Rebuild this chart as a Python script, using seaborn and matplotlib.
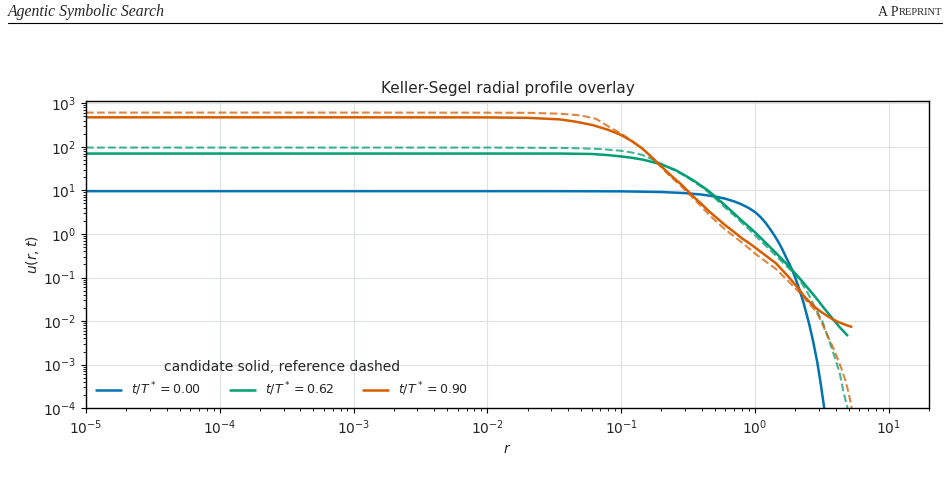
import numpy as np
import pandas as pd
import seaborn as sns
import matplotlib.pyplot as plt
from matplotlib.ticker import LogLocator, NullFormatter

# radial profiles
r_t000 = [1e-5, 1e-3, 0.03, 0.1, 0.2, 0.3, 0.4, 0.5, 0.6, 0.7, 0.8, 0.9, 1.0, 1.1, 1.2,
          1.3, 1.4, 1.5, 1.6, 1.7, 1.8, 1.9, 2.0, 2.13, 2.3, 2.53, 2.7, 2.92, 3.1, 3.27, 3.4]
u_t000 = [9.6, 9.6, 9.6, 9.5, 9.17, 8.65, 8.0, 7.26, 6.43, 5.57, 4.72, 3.92, 3.18, 2.44, 1.80,
          1.28, 0.91, 0.643, 0.443, 0.299, 0.209, 0.146, 0.098, 0.057, 0.027, 0.00895, 0.00379,
          0.00114, 3.6e-4, 1.15e-4, 4.6e-5]

r_t062 = [1e-5, 0.01, 0.035, 0.06, 0.08, 0.1, 0.12, 0.144, 0.165, 0.19, 0.22, 0.256, 0.3,
          0.34, 0.4, 0.454, 0.52, 0.6, 0.7, 0.8, 0.9, 1.0, 1.2, 1.43, 1.75, 2.13, 2.45,
          2.84, 3.27, 3.77, 4.3, 4.9]
u_t062 = [70, 70, 70, 68.5, 64.5, 60, 56, 51, 46, 41, 35, 29, 22,
          17.6, 12.5, 9.5, 6.6, 4.5, 2.92, 2.0, 1.46, 1.09, 0.63, 0.37, 0.195, 0.1, 0.06,
          0.035, 0.02, 0.0117, 0.0072, 0.0047]
r_t062_ref = [1e-5, 0.01, 0.035, 0.05, 0.07, 0.1, 0.12, 0.144, 0.165, 0.19, 0.22, 0.256,
              0.3, 0.34, 0.4, 0.454, 0.52, 0.6, 0.7, 0.8, 0.9, 1.0, 1.2, 1.43, 1.75, 2.13,
              2.5, 2.84, 3.18, 3.57, 4.0, 4.3, 4.61, 4.89, 5.0]
u_t062_ref = [96, 96, 94.4, 92, 89, 81, 74, 65, 54, 44, 35.5, 28,
              21.5, 16.6, 12, 8.7, 6.0, 4.0, 2.65, 1.78, 1.29, 0.93, 0.54, 0.32, 0.174, 0.095,
              0.042, 0.019, 0.01, 0.0037, 0.0013, 6.3e-4, 2.2e-4, 1.07e-4, 7e-5]

r_t090 = [1e-5, 1e-3, 0.01, 0.02, 0.0345, 0.045, 0.061, 0.08, 0.1, 0.12, 0.144, 0.165,
          0.19, 0.228, 0.28, 0.34, 0.4, 0.454, 0.52, 0.6, 0.7, 0.8, 0.9, 1.0, 1.2, 1.43,
          1.6, 1.8, 2.0, 2.13, 2.3, 2.5, 2.7, 2.84, 3.05, 3.3, 3.77, 4.2, 4.7, 5.26]
u_t090 = [475, 475, 473, 462, 427, 380, 316, 245, 186, 135, 91, 62,
          41, 24, 13.8, 7.6, 4.8, 3.3, 2.3, 1.58, 1.1, 0.79, 0.62, 0.49, 0.32, 0.214,
          0.148, 0.1, 0.068, 0.054, 0.039, 0.0295, 0.0234, 0.0202, 0.017, 0.0145, 0.0112,
          0.0095, 0.0083, 0.0074]
r_t090_ref = [1e-5, 1e-3, 0.01, 0.02, 0.035, 0.05, 0.065, 0.081, 0.1, 0.12, 0.144, 0.165,
              0.19, 0.228, 0.28, 0.34, 0.4, 0.454, 0.52, 0.6, 0.7, 0.8, 0.9, 1.0, 1.2, 1.43,
              1.6, 1.8, 2.0, 2.13, 2.3, 2.5, 2.7, 2.84, 3.0, 3.18, 3.5, 3.75, 4.0, 4.4, 4.75,
              5.0, 5.26, 5.4]
u_t090_ref = [610, 610, 607, 603, 575, 525, 437, 288, 200, 138, 91, 62,
              40, 22.4, 12.6, 6.9, 4.17, 2.75, 1.86, 1.26, 0.87, 0.63, 0.47, 0.355, 0.234, 0.158,
              0.112, 0.079, 0.056, 0.047, 0.0355, 0.0263, 0.0204, 0.0174, 0.0126, 0.0087,
              0.00447, 0.00288, 0.00178, 8.5e-4, 4.2e-4, 2.3e-4, 1.07e-4, 6.3e-5]

labels = ['$t/T^*=0.00$', '$t/T^*=0.62$', '$t/T^*=0.90$']
xticks = [1e-5, 1e-4, 1e-3, 1e-2, 1e-1, 1e0, 1e1]

sns.set_style('ticks')
plt.rcParams['font.family'] = 'DejaVu Sans'
plt.rcParams['font.size'] = 10

pal = sns.color_palette('colorblind')
colors = [pal[0], pal[2], pal[3]]

fig = plt.figure(figsize=(9.5, 4.86), dpi=100)
ax = fig.add_axes([0.0905, 0.16, 0.8875, 0.632])

cand = [(r_t000, u_t000), (r_t062, u_t062), (r_t090, u_t090)]
refs = [None, (r_t062_ref, u_t062_ref), (r_t090_ref, u_t090_ref)]

for i in range(3):
    if refs[i] is not None:
        sns.lineplot(x=refs[i][0], y=refs[i][1], ax=ax, color=colors[i], lw=1.5,
                     linestyle='--', alpha=0.75, estimator=None, sort=False)
    sns.lineplot(x=cand[i][0], y=cand[i][1], ax=ax, color=colors[i], lw=1.8,
                 label=labels[i], estimator=None, sort=False)

ax.set_xscale('log')
ax.set_yscale('log')
ax.set_xticks(xticks)
ax.set_xlim(1e-5, 2e1)
ax.set_ylim(1e-4, 1.12e3)
ax.yaxis.set_minor_locator(LogLocator(base=10, subs=np.arange(2, 10), numticks=100))
ax.yaxis.set_minor_formatter(NullFormatter())
ax.xaxis.set_minor_locator(LogLocator(base=10, subs=np.arange(2, 10), numticks=100))
ax.xaxis.set_minor_formatter(NullFormatter())
ax.grid(True, which='major', color='#dde3e3', linewidth=0.8)
ax.set_axisbelow(True)
ax.tick_params(which='both', direction='out', color='black')
for s in ax.spines.values():
    s.set_color('black')
    s.set_linewidth(1.0)

ax.set_title('Keller-Segel radial profile overlay', fontsize=11)
ax.set_xlabel('$r$')
ax.set_ylabel('$u(r,t)$', labelpad=1)

ax.legend(title='candidate solid, reference dashed', loc='lower left', ncol=3,
          frameon=False, fontsize=9, title_fontsize=10, handlelength=2.0,
          handletextpad=0.8, columnspacing=2.3, borderaxespad=0.4)

# page header of the paper
fig.text(0.008, 0.975, 'Agentic Symbolic Search', family='Liberation Serif',
         style='italic', fontsize=11.3, va='center')
t2 = fig.text(0.992, 0.975, 'REPRINT', family='Liberation Serif', fontsize=7.6,
              va='center', ha='right')
fig.canvas.draw()
bb = t2.get_window_extent()
fig.text(bb.x0 / fig.bbox.width, 0.975, 'A P', family='Liberation Serif',
         fontsize=10, va='center', ha='right')
fig.add_artist(plt.Line2D([0.008, 0.992], [0.953, 0.953], color='black', lw=0.8,
                          transform=fig.transFigure))

fig.savefig('out.png', dpi=100)
